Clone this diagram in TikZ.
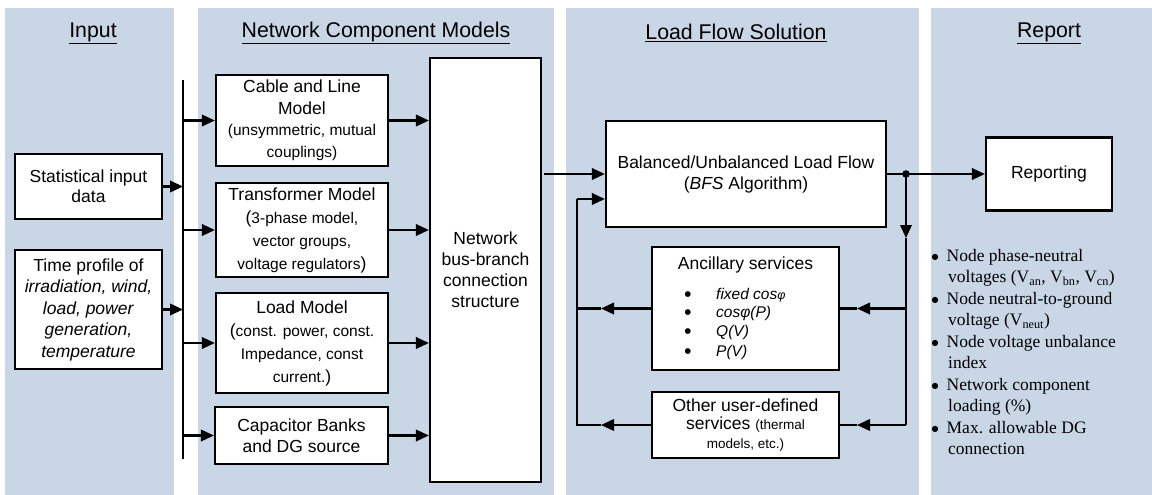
\documentclass[tikz,border=0pt]{standalone}
\usepackage{fontspec}
\setmainfont{Liberation Sans}
\newfontfamily\tnr{Liberation Serif}
\newfontfamily\dvs{DejaVu Sans}
\usetikzlibrary{arrows.meta}
\definecolor{panel}{RGB}{201,214,230}
\newcommand\smf{\fontsize{15.5}{22}\selectfont}
\newcommand\xsf{\fontsize{13.5}{20}\selectfont}
\newcommand\bigbul{\raisebox{1.8pt}{\dvs\fontsize{8}{8}\selectfont ●}}
\begin{document}
\begin{tikzpicture}[x=1pt,y=-1pt,
  box/.style={draw=black, fill=white, line width=2.2pt, inner sep=1pt, align=center, font=\fontsize{17.5}{22}\selectfont},
  txt/.style={inner sep=0pt, font=\fontsize{17.5}{22}\selectfont},
  conn/.style={line width=2.1pt},
  arr/.style={conn,-{Triangle[length=13pt,width=11.5pt]}},
  ttl/.style={inner sep=0pt, font=\fontsize{21.3}{25}\selectfont}]
\useasboundingbox (0,0) rectangle (1152,495);
\fill[white] (0,0) rectangle (1152,495);
\fill[panel] (5,8) rectangle (174,495);
\fill[panel] (198,8) rectangle (554,495);
\fill[panel] (566,8) rectangle (919,495);
\fill[panel] (931,8) rectangle (1152,495);
% titles
\node[ttl] (tIn) at (93,33) {\underline{Input}};
\node[ttl] (tNet) at (376,33) {\underline{Network Component Models}};
\node[ttl] (tLF) at (736,33) {\underline{Load Flow Solution}};
\node[ttl] (tRep) at (1049,33) {\underline{Report}};
% input boxes
\node[box, minimum width=147pt, minimum height=65pt, font=\fontsize{17.5}{20}\selectfont] (stat) at (88.5,186.5) {Statistical input\\data};
\node[box, minimum width=147pt, minimum height=119pt, font=\fontsize{17.5}{21.5}\selectfont] (time) at (88.5,309.5) {Time profile of\\\textit{irradiation, wind,}\\\textit{load, power}\\\textit{generation,}\\\textit{temperature}};
% component boxes
\node[box, minimum width=172pt, minimum height=91pt, font=\fontsize{17.5}{21.5}\selectfont] (cable) at (302,120.5) {Cable and Line\\Model\\{\smf(unsymmetric, mutual}\\{\smf couplings)}};
\node[box, minimum width=172pt, minimum height=94pt, font=\fontsize{17.5}{23}\selectfont] (trafo) at (302,230) {Transformer Model\\({\smf 3-phase model,}\\{\smf vector groups,}\\{\smf voltage regulators})};
\node[box, minimum width=172pt, minimum height=100pt, font=\fontsize{17.5}{23}\selectfont] (load) at (302,343) {Load Model\\({\smf const. power, const.}\\{\smf Impedance, const}\\{\smf current.})};
\node[box, minimum width=173pt, minimum height=57pt, font=\fontsize{17.5}{21}\selectfont] (cap) at (301.5,435.5) {Capacitor Banks\\and DG source};
\node[box, minimum width=111pt, minimum height=424pt, font=\fontsize{17.5}{21}\selectfont] (net) at (485.5,270) {Network\\bus-branch\\connection\\structure};
% load flow
\node[box, minimum width=280pt, minimum height=106pt, font=\fontsize{17.5}{21}\selectfont] (bfs) at (746,174) {Balanced/Unbalanced Load Flow\\(\textit{BFS} Algorithm)};
\node[box, minimum width=187pt, minimum height=123pt] (anc) at (745.5,308.5) {};
\node[txt] (ancT) at (745.5,265) {Ancillary services};
\foreach \yy/\tt [count=\i] in {299/{fixed cos{\fontsize{12.5}{14}\selectfont φ}}, 317/{cosφ(P)}, 336/{Q(V)}, 356/{P(V)}}{
  \node[inner sep=0pt, anchor=base, font=\dvs\fontsize{7.5}{8}\selectfont] (ancB\i) at (688,\yy-3) {●};
  \node[inner sep=0pt, anchor=base west, font=\smf] (ancI\i) at (716,\yy) {\textit{\tt}};
}
\node[box, minimum width=187pt, minimum height=66pt, font=\fontsize{17.5}{18.5}\selectfont] (oth) at (745.5,425) {Other user-defined\\services {\xsf(thermal}\\{\xsf models, etc.)}};
% report
\node[box, minimum width=126pt, minimum height=73pt] (rep) at (1049,174) {Reporting};
\node[anchor=north west, inner sep=0pt, font=\tnr\fontsize{17.5}{21.5}\selectfont] (replist) at (931.5,246) {%
\begin{tabular}{@{}l@{\hspace{8pt}}l@{}}
\bigbul & Node phase-neutral\\
  & \hspace{1.5pt}voltages (V\textsubscript{an}, V\textsubscript{bn}, V\textsubscript{cn})\\
\bigbul & Node neutral-to-ground\\
  & \hspace{1.5pt}voltage (V\textsubscript{neut})\\
\bigbul & Node voltage unbalance\\
  & \hspace{1.5pt}index\\
\bigbul & Network component\\
  & \hspace{1.5pt}loading (\%)\\
\bigbul & Max. allowable DG\\
  & \hspace{1.5pt}connection
\end{tabular}};
% bus
\coordinate (busT) at (183,80);
\coordinate (busB) at (183,459);
\draw[conn] (busT) -- (busB);
\draw[arr] (stat.east) -- (stat.east -| busT);
\draw[arr] (time.east) -- (time.east -| busT);
\foreach \n in {cable,trafo,load,cap}{
  \draw[arr] (\n.west -| busT) -- (\n.west);
  \draw[arr] (\n.east) -- (\n.east -| net.west);
}
\draw[arr] ([xshift=2pt]net.east |- bfs.west) -- (bfs.west);
% output and feedback
\coordinate (jR) at (906,174);
\coordinate (vA) at (906,238);
\coordinate (jRb) at (906,425);
\draw[arr] (bfs.east) -- (rep.west);
\fill (jR) circle (3.8pt);
\draw[arr] (jR) -- (vA);
\draw[conn] (vA) -- (jRb);
\coordinate (aR) at (857,308.5);
\coordinate (oR) at (857,425);
\draw[arr] (anc.east -| jR) -- (aR);
\draw[conn] (aR) -- (anc.east);
\draw[arr] (jRb) -- (oR);
\draw[conn] (oR) -- (oth.east);
\coordinate (aL) at (601,308.5);
\coordinate (oL) at (601,425);
\coordinate (jLb) at (577,425);
\coordinate (jLt) at (577,199);
\draw[arr] (anc.west) -- (aL);
\draw[conn] (aL) -- (aL -| jLb);
\draw[arr] (oth.west) -- (oL);
\draw[conn] (oL) -- (jLb) -- (jLt);
\draw[arr] (jLt) -- (jLt -| bfs.west);
\end{tikzpicture}
\end{document}
